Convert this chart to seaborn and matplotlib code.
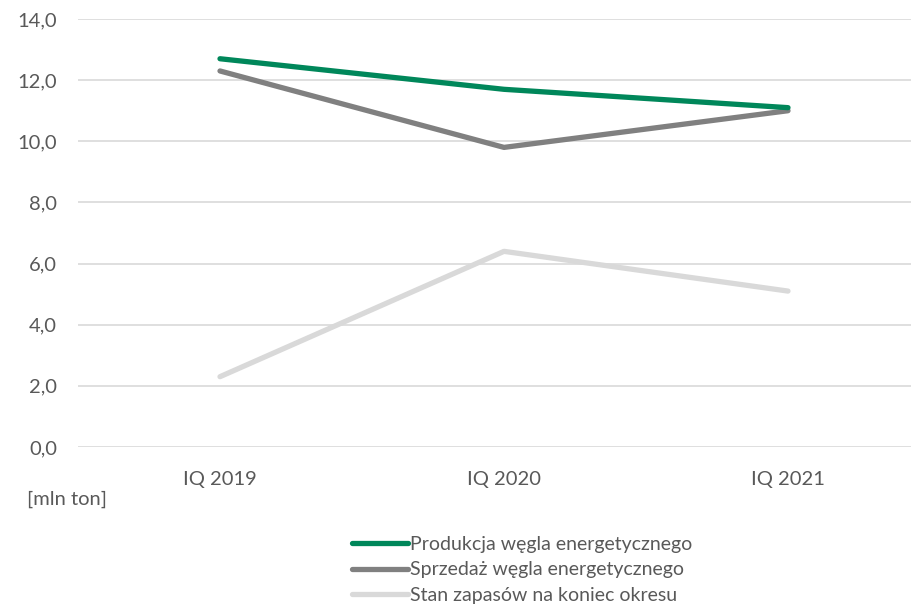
import matplotlib
matplotlib.use("Agg")
import matplotlib.pyplot as plt
import seaborn as sns
import pandas as pd

categories = ["IQ 2019", "IQ 2020", "IQ 2021"]
produkcja = [12.7, 11.7, 11.1]
sprzedaz = [12.3, 9.8, 11.0]
zapasy = [2.3, 6.4, 5.1]
series_names = ["Produkcja węgla energetycznego",
                "Sprzedaż węgla energetycznego",
                "Stan zapasów na koniec okresu"]
yticks = [0, 2, 4, 6, 8, 10, 12, 14]

sns.set_theme(style="white")
plt.rcParams['font.family'] = ['Lato', 'DejaVu Sans']

df = pd.DataFrame({
    "cat": categories * 3,
    "x": list(range(len(categories))) * 3,
    "value": produkcja + sprzedaz + zapasy,
    "series": [series_names[0]] * 3 + [series_names[1]] * 3 + [series_names[2]] * 3,
})

palette = {series_names[0]: "#00875A", series_names[1]: "#808080", series_names[2]: "#D9D9D9"}

W, H = 911, 609
fig = plt.figure(figsize=(W / 100, H / 100), dpi=100)
ax = fig.add_axes([78 / W, (H - 447) / H, 852 / W, 428 / H])

sns.lineplot(data=df, x="x", y="value", hue="series", palette=palette,
             hue_order=series_names[::-1], linewidth=3.8, ax=ax, legend=False,
             solid_capstyle="round", sort=False)

ax.set_xlim(-0.5, 2.5)
ax.set_ylim(0, 14)
ax.set_yticks(yticks)
ax.set_yticklabels([f"{v:.1f}".replace(".", ",") for v in yticks])
ax.set_xticks(range(len(categories)))
ax.set_xticklabels(categories)
ax.set_xlabel("")
ax.set_ylabel("")
for s in ax.spines.values():
    s.set_visible(False)
ax.grid(axis="y", color="#D9D9D9", linewidth=1.2)
ax.set_axisbelow(True)
ax.tick_params(axis="both", length=0, labelsize=14.5, colors="#595959")
ax.tick_params(axis="y", pad=15)
ax.tick_params(axis="x", pad=17)

fig.text(27 / W, (H - 499) / H, "[mln ton]", fontsize=14.5, color="#595959",
         va="center", ha="left")

from matplotlib.lines import Line2D
handles = [Line2D([0], [0], color=palette[n], linewidth=3.8, solid_capstyle="round") for n in series_names]
leg = fig.legend(handles, series_names, loc="center left",
                 bbox_to_anchor=(352 / W, (H - 570) / H), frameon=False,
                 fontsize=14, handlelength=2.9, handletextpad=0.1,
                 labelspacing=0.45, borderaxespad=0, borderpad=0)
for t in leg.get_texts():
    t.set_color("#595959")

fig.savefig("out.png", dpi=100)
